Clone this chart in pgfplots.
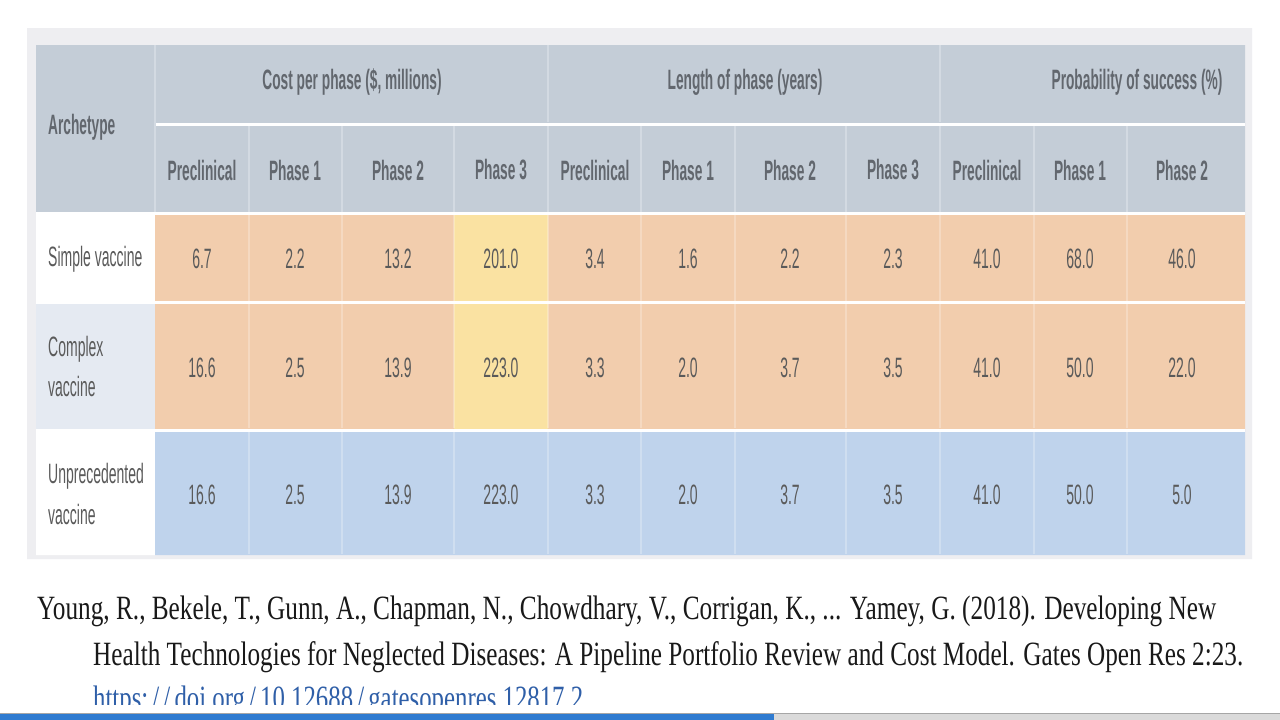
\documentclass[border=0pt]{standalone}
\usepackage{fontspec}
\setmainfont{Liberation Serif}
\newfontfamily\tabfont[FakeStretch=0.5]{Liberation Sans}
\newfontfamily\headfont[FakeStretch=0.49]{Liberation Sans Bold}
\usepackage{graphicx}
\usepackage{pgfplots}
\usepackage{pgfplotstable}
\pgfplotsset{compat=1.18}

\definecolor{frame}{HTML}{EEEEF1}
\definecolor{head}{HTML}{C4CDD7}
\definecolor{headline}{HTML}{D3DAE2}
\definecolor{orng}{HTML}{F2CDAD}
\definecolor{yell}{HTML}{FAE2A2}
\definecolor{blu}{HTML}{BFD3EC}
\definecolor{arch}{HTML}{E5EAF2}
\definecolor{htext}{HTML}{62676E}
\definecolor{btext}{HTML}{5A5A5A}
\definecolor{urlblue}{HTML}{2F5FA8}
\definecolor{taskblue}{HTML}{2F7BD0}
\definecolor{taskgray}{HTML}{DADADA}

% body values: x = column centre, y = row centre (pixels, y downwards)
\pgfplotstableread{
x y v
202 259 6.7
295 259 2.2
398 259 13.2
501 259 201.0
595 259 3.4
688 259 1.6
790 259 2.2
893 259 2.3
987 259 41.0
1080 259 68.0
1182 259 46.0
}\simple
\pgfplotstableread{
x y v
202 368 16.6
295 368 2.5
398 368 13.9
501 368 223.0
595 368 3.3
688 368 2.0
790 368 3.7
893 368 3.5
987 368 41.0
1080 368 50.0
1182 368 22.0
}\complex
\pgfplotstableread{
x y v
202 495 16.6
295 495 2.5
398 495 13.9
501 495 223.0
595 495 3.3
688 495 2.0
790 495 3.7
893 495 3.5
987 495 41.0
1080 495 50.0
1182 495 5.0
}\unprec

\newcommand\cell[5]{\addplot[fill=#5, draw=none, mark=none] coordinates {(#1,#2) (#3,#2) (#3,#4) (#1,#4) (#1,#2)};}
\newcommand\sepline[4]{\addplot[draw=#4, line width=1.2pt, mark=none] coordinates {(#1,#2) (#1,#3)};}

\begin{document}
\begin{tikzpicture}
\begin{axis}[
  scale only axis, width=1280pt, height=720pt,
  xmin=0, xmax=1280, ymin=0, ymax=720, y dir=reverse,
  hide axis, clip=false,
  every node near coord/.style={anchor=center, inner sep=0pt, font=\tabfont\fontsize{28}{30}\selectfont, text=btext},
]
% background and frame
\cell{0}{0}{1280}{720}{white}
\cell{27}{28}{1252}{559}{frame}
% header
\cell{36}{45}{1245}{212}{head}
% archetype column
\cell{36}{214}{155}{302}{white}
\cell{36}{302}{155}{430}{arch}
\cell{36}{430}{155}{555}{white}
% body colours
\cell{155}{214}{1245}{430}{orng}
\cell{454}{214}{548}{430}{yell}
\cell{155}{430}{1245}{555}{blu}
% white horizontal rules
\addplot[draw=white, line width=3pt, mark=none] coordinates {(155,124) (1245,124)};
\addplot[draw=white, line width=3pt, mark=none] coordinates {(36,213) (1245,213)};
\addplot[draw=white, line width=3pt, mark=none] coordinates {(36,302.5) (1245,302.5)};
\addplot[draw=white, line width=3pt, mark=none] coordinates {(36,430) (1245,430)};
% faint vertical rules in header
\sepline{155}{45}{212}{headline}
\sepline{548}{45}{122}{headline}
\sepline{940}{45}{122}{headline}
\sepline{249}{126}{212}{headline}
\sepline{342}{126}{212}{headline}
\sepline{454}{126}{212}{headline}
\sepline{548}{126}{212}{headline}
\sepline{641}{126}{212}{headline}
\sepline{735}{126}{212}{headline}
\sepline{846}{126}{212}{headline}
\sepline{940}{126}{212}{headline}
\sepline{1034}{126}{212}{headline}
\sepline{1127}{126}{212}{headline}
% faint vertical rules in body
\foreach \xx in {249,342,454,548,641,735,846,940,1034,1127} {
  \edef\tmp{\noexpand\addplot[draw=white, opacity=0.25, line width=1.2pt, mark=none] coordinates {(\xx,215) (\xx,301)};
            \noexpand\addplot[draw=white, opacity=0.25, line width=1.2pt, mark=none] coordinates {(\xx,304) (\xx,428)};
            \noexpand\addplot[draw=white, opacity=0.25, line width=1.2pt, mark=none] coordinates {(\xx,432) (\xx,554)};}
  \tmp
}
% values
\addplot[draw=none, mark=none, nodes near coords, point meta=explicit symbolic] table[x=x, y=y, meta=v] {\simple};
\addplot[draw=none, mark=none, nodes near coords, point meta=explicit symbolic] table[x=x, y=y, meta=v] {\complex};
\addplot[draw=none, mark=none, nodes near coords, point meta=explicit symbolic] table[x=x, y=y, meta=v] {\unprec};
% bottom bar
\addplot[draw=gray!70, line width=1pt, mark=none] coordinates {(0,713.5) (1280,713.5)};
\cell{0}{714}{774}{720}{taskblue}
\cell{774}{714}{1280}{720}{taskgray}

% header texts
\node[anchor=west, inner sep=0pt, text=htext, font=\headfont\fontsize{28}{30}\selectfont] at (axis cs:48,127) {Archetype};
\node[inner sep=0pt, text=htext, font=\headfont\fontsize{28}{30}\selectfont] at (axis cs:352,82) {Cost per phase (\$, millions)};
\node[inner sep=0pt, text=htext, font=\headfont\fontsize{28}{30}\selectfont] at (axis cs:745,82) {Length of phase (years)};
\node[inner sep=0pt, text=htext, font=\headfont\fontsize{28}{30}\selectfont] at (axis cs:1137,82) {Probability of success (\%)};
\foreach \cx/\lab in {202/Preclinical,295/Phase 1,398/Phase 2,501/Phase 3,595/Preclinical,688/Phase 1,790/Phase 2,893/Phase 3,987/Preclinical,1080/Phase 1,1182/Phase 2} {
  \edef\tmp{\noexpand\node[inner sep=0pt, text=htext, font=\noexpand\headfont\noexpand\fontsize{28}{30}\noexpand\selectfont] at (axis cs:\cx,170) {\lab};}
  \tmp
}
% archetype labels
\node[anchor=west, inner sep=0pt, text=btext, font=\tabfont\fontsize{28}{30}\selectfont] at (axis cs:48,259) {Simple vaccine};
\node[anchor=west, inner sep=0pt, text=btext, font=\tabfont\fontsize{28}{30}\selectfont] at (axis cs:48,349) {Complex};
\node[anchor=west, inner sep=0pt, text=btext, font=\tabfont\fontsize{28}{30}\selectfont] at (axis cs:48,386) {vaccine};
\node[anchor=west, inner sep=0pt, text=btext, font=\tabfont\fontsize{28}{30}\selectfont] at (axis cs:48,476) {Unprecedented};
\node[anchor=west, inner sep=0pt, text=btext, font=\tabfont\fontsize{28}{30}\selectfont] at (axis cs:48,514) {vaccine};
% citation
\node[anchor=west, inner sep=0pt, text=black!90] at (axis cs:37,611) {\resizebox{1179pt}{\height}{\fontsize{34}{40}\selectfont Young, R., Bekele, T., Gunn, A., Chapman, N., Chowdhary, V., Corrigan, K., ... Yamey, G. (2018). Developing New}};
\node[anchor=west, inner sep=0pt, text=black!90] at (axis cs:93,657) {\resizebox{1150pt}{\height}{\fontsize{34}{40}\selectfont Health Technologies for Neglected Diseases: A Pipeline Portfolio Review and Cost Model. Gates Open Res 2:23.}};
% URL line, cut off at the bottom as in the screenshot
\begin{scope}
\clip (axis cs:0,600) rectangle (axis cs:1280,704);
\node[anchor=west, inner sep=0pt, text=urlblue] at (axis cs:93,701) {\resizebox{490pt}{\height}{\fontsize{34}{40}\selectfont https:\,/\,/\,doi.org\,/\,10.12688\,/\,gatesopenres.12817.2}};
\end{scope}
\end{axis}
\pgfresetboundingbox
\useasboundingbox (current axis.south west) rectangle (current axis.north east);
\end{tikzpicture}
\end{document}
